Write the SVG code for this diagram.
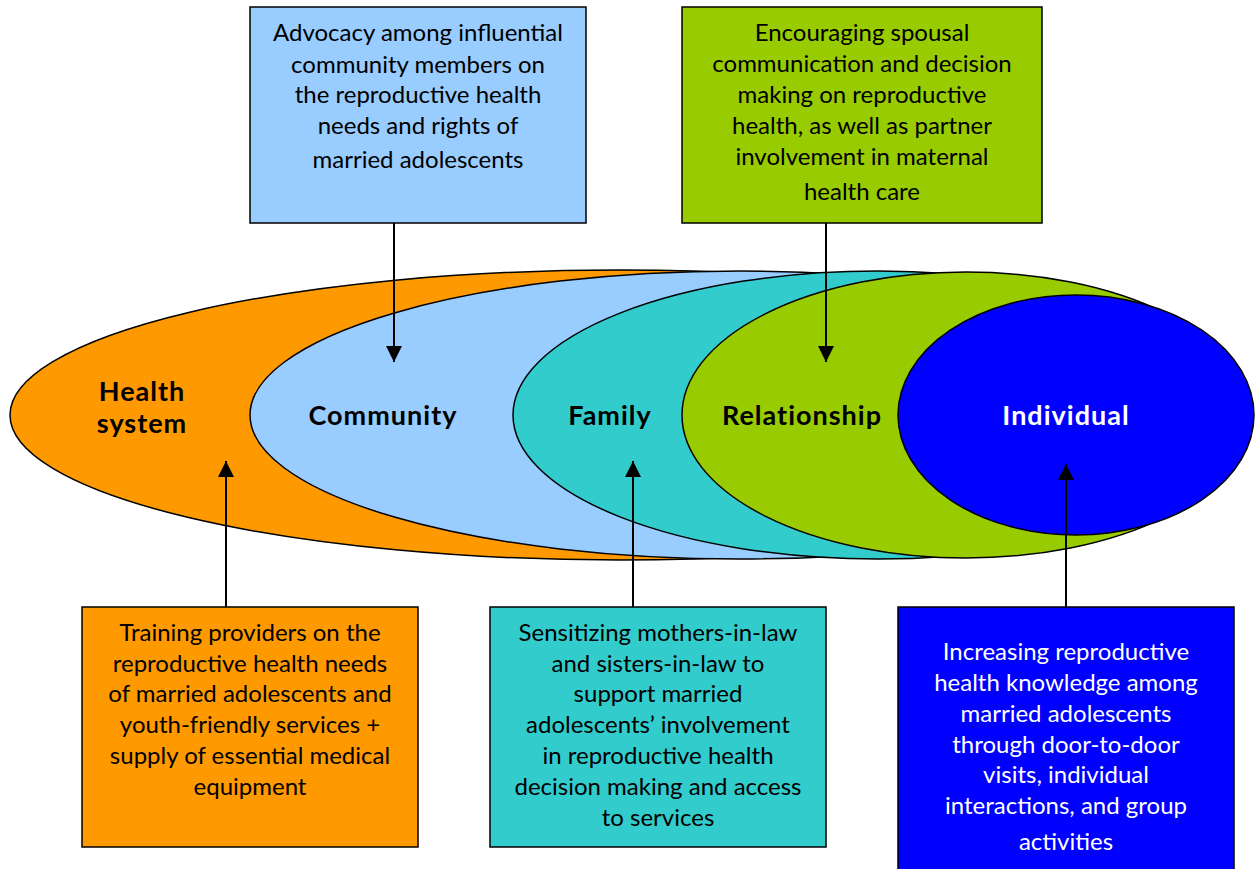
<svg xmlns="http://www.w3.org/2000/svg" width="1255" height="869" viewBox="0 0 1255 869">
<style>
.el{stroke:#000;stroke-width:1.5}
.box{stroke:#000;stroke-width:1.5}
.t{font-family:Lato,"Liberation Sans",sans-serif;font-size:24px;text-anchor:middle;fill:#000}
.tw{fill:#fff}
.lab{font-family:Lato,"Liberation Sans",sans-serif;font-size:27px;font-weight:bold;letter-spacing:1px;text-anchor:middle;fill:#000}
.con{stroke:#000;stroke-width:2;fill:none}
</style>
<defs>
<marker id="ah2" viewBox="0 0 16 16" refX="16" refY="8" markerWidth="16" markerHeight="16" markerUnits="userSpaceOnUse" orient="auto">
<path d="M0,0 L16,8 L0,16 z" fill="#000"/>
</marker>
</defs>
<rect width="1255" height="869" fill="#fff"/>
<g id="health-system">
<ellipse class="el" cx="620" cy="415" rx="610" ry="145" fill="#FF9900"/>
<text class="lab" x="142" y="401">Health</text>
<text class="lab" x="142" y="433">system</text>
</g>
<g id="community">
<ellipse class="el" cx="740" cy="415" rx="490" ry="144" fill="#99CCFF"/>
<text class="lab" x="383" y="425">Community</text>
</g>
<g id="family">
<ellipse class="el" cx="878" cy="415" rx="365" ry="144" fill="#33CCCC"/>
<text class="lab" x="610" y="425">Family</text>
</g>
<g id="relationship">
<ellipse class="el" cx="966" cy="415" rx="284" ry="143" fill="#99CC00"/>
<text class="lab" x="802" y="425">Relationship</text>
</g>
<g id="individual">
<ellipse class="el" cx="1076" cy="415" rx="178" ry="120" fill="#0000FF"/>
<text class="lab" x="1066" y="425" style="fill:#fff">Individual</text>
</g>
<g id="box-community">
<rect class="box" x="250" y="7" width="336" height="216" fill="#99CCFF"/>
<text class="t" x="418" y="41">Advocacy among influential</text>
<text class="t" x="418" y="73">community members on</text>
<text class="t" x="418" y="103">the reproductive health</text>
<text class="t" x="418" y="134">needs and rights of</text>
<text class="t" x="418" y="168">married adolescents</text>
</g>
<g id="box-relationship">
<rect class="box" x="682" y="7" width="360" height="216" fill="#99CC00"/>
<text class="t" x="862" y="41">Encouraging spousal</text>
<text class="t" x="862" y="72">communication and decision</text>
<text class="t" x="862" y="103">making on reproductive</text>
<text class="t" x="862" y="134">health, as well as partner</text>
<text class="t" x="862" y="165">involvement in maternal</text>
<text class="t" x="862" y="200">health care</text>
</g>
<g id="box-health-system">
<rect class="box" x="82" y="607" width="336" height="240" fill="#FF9900"/>
<text class="t" x="250" y="641">Training providers on the</text>
<text class="t" x="250" y="672">reproductive health needs</text>
<text class="t" x="250" y="702">of married adolescents and</text>
<text class="t" x="250" y="733">youth-friendly services +</text>
<text class="t" x="250" y="764">supply of essential medical</text>
<text class="t" x="250" y="795">equipment</text>
</g>
<g id="box-family">
<rect class="box" x="490" y="607" width="336" height="240" fill="#33CCCC"/>
<text class="t" x="658" y="641">Sensitizing mothers-in-law</text>
<text class="t" x="658" y="672">and sisters-in-law to</text>
<text class="t" x="658" y="702">support married</text>
<text class="t" x="658" y="733">adolescents’ involvement</text>
<text class="t" x="658" y="764">in reproductive health</text>
<text class="t" x="658" y="795">decision making and access</text>
<text class="t" x="658" y="826">to services</text>
</g>
<g id="box-individual">
<rect class="box" x="898" y="607" width="336" height="270" fill="#0000FF"/>
<text class="t tw" x="1066" y="660">Increasing reproductive</text>
<text class="t tw" x="1066" y="691">health knowledge among</text>
<text class="t tw" x="1066" y="722">married adolescents</text>
<text class="t tw" x="1066" y="753">through door-to-door</text>
<text class="t tw" x="1066" y="783">visits, individual</text>
<text class="t tw" x="1066" y="814">interactions, and group</text>
<text class="t tw" x="1066" y="850">activities</text>
</g>
<g id="connectors">
<line class="con" x1="394" y1="223" x2="394" y2="362" marker-end="url(#ah2)"/>
<line class="con" x1="826" y1="223" x2="826" y2="362" marker-end="url(#ah2)"/>
<line class="con" x1="226" y1="607" x2="226" y2="461" marker-end="url(#ah2)"/>
<line class="con" x1="633" y1="607" x2="633" y2="461" marker-end="url(#ah2)"/>
<line class="con" x1="1066" y1="607" x2="1066" y2="464" marker-end="url(#ah2)"/>
</g>
</svg>
